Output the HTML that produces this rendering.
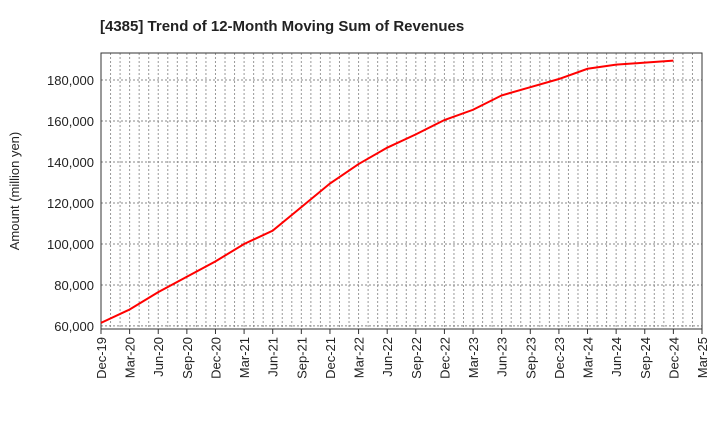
<!DOCTYPE html>
<html><head><meta charset="utf-8"><style>
body{margin:0;background:#fff;font-family:"Liberation Sans",sans-serif}
</style></head><body>
<svg width="720" height="440" id="c" xmlns="http://www.w3.org/2000/svg">
<text x="100" y="31" font-size="15" font-weight="bold" fill="#222">[4385]  Trend of 12-Month Moving Sum of Revenues</text>
<text transform="translate(19,191) rotate(-90)" text-anchor="middle" font-size="13" fill="#222">Amount (million yen)</text>
</svg>
<script>
const categories=["Dec-19","Mar-20","Jun-20","Sep-20","Dec-20","Mar-21","Jun-21","Sep-21","Dec-21","Mar-22","Jun-22","Sep-22","Dec-22","Mar-23","Jun-23","Sep-23","Dec-23","Mar-24","Jun-24","Sep-24","Dec-24","Mar-25"];
const revenues=[61500,68000,76500,84000,91500,100000,106500,118000,129500,139000,147000,153500,160500,165500,172500,176500,180500,185500,187500,188500,189500];
const yTicks=[60000,80000,100000,120000,140000,160000,180000];
const L=101,R=702,T=53,B=329,yMin=58500,yMax=193200;
const xs=i=>L+(R-L)*i/(categories.length-1);
const ys=v=>B-(B-T)*(v-yMin)/(yMax-yMin);
const svg=document.getElementById('c');const NS="http://www.w3.org/2000/svg";
function mk(t,a,p){const e=document.createElementNS(NS,t);for(const k in a)e.setAttribute(k,a[k]);(p||svg).appendChild(e);return e;}
const g=mk('g',{});


for(let m=1;m<(categories.length-1)*3;m++){const x=L+(R-L)*m/((categories.length-1)*3);mk('line',{x1:x,x2:x,y1:T,y2:B,stroke:'#999','stroke-dasharray':'2,2','stroke-width':1},g);}
yTicks.forEach(v=>{const y=ys(v);mk('line',{x1:L,x2:R,y1:y,y2:y,stroke:'#888','stroke-dasharray':'2,2','stroke-width':1},g);
const t=mk('text',{x:L-7,y:y+5,'text-anchor':'end','font-size':13,fill:'#222'});t.textContent=v.toLocaleString('en-US');

});
categories.forEach((c,i)=>{const x=xs(i);mk('line',{x1:x,x2:x,y1:B,y2:B+5,stroke:'#333'});
const t=mk('text',{transform:`translate(${x+5},${B+8}) rotate(-90)`,'text-anchor':'end','font-size':13,fill:'#222'});t.textContent=c;

});
const fr=mk('rect',{x:L,y:T,width:R-L,height:B-T,fill:'none',stroke:'#333','stroke-width':1});


const ln=mk('polyline',{points:revenues.map((v,i)=>xs(i)+','+ys(v)).join(' '),fill:'none',stroke:'#f00','stroke-width':2});


</script>
</body></html>
